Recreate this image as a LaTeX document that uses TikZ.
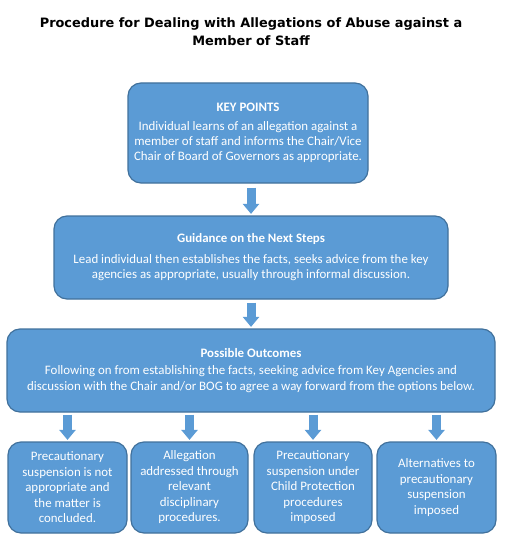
\documentclass[tikz,border=0pt]{standalone}
\usepackage{fontspec}
\setmainfont{Carlito}
\newfontfamily\titlefont{DejaVu Sans}
\usetikzlibrary{arrows.meta,calc}
\definecolor{boxfill}{HTML}{5B9BD5}
\definecolor{boxline}{HTML}{41719C}
\begin{document}
\begin{tikzpicture}[x=1pt,y=-1pt,
  box/.style={draw=boxline, fill=boxfill, line width=1.2pt, rounded corners=13pt,
    text=white, align=center, inner sep=0pt, font=\fontsize{12.9}{15.5}\selectfont},
  blockarrow/.style={color=boxfill, line width=9pt,
    -{Triangle[width=16pt,length=10pt]}}]
\useasboundingbox (0,0) rectangle (504,548);
\node[align=center, font=\titlefont\bfseries\fontsize{12.9}{18}\selectfont] (title) at (251,31.5)
  {Procedure for Dealing with Allegations of Abuse against a\\Member of Staff};
\node[box, minimum width=240pt, minimum height=100pt, font=\fontsize{12.9}{14.8}\selectfont] (k) at (248,133)
  {\textbf{KEY POINTS}\\[4pt]Individual learns of an allegation against a\\member of staff and informs the Chair/Vice\\Chair of Board of Governors as appropriate.};
\node[box, minimum width=394pt, minimum height=83pt] (g) at (251,257.5)
  {\textbf{Guidance on the Next Steps}\\[5pt]Lead individual then establishes the facts, seeks advice from the key\\agencies as appropriate, usually through informal discussion.};
\node[box, minimum width=488pt, minimum height=83pt] (o) at (251,370.5)
  {\textbf{Possible Outcomes}\\[2pt]Following on from establishing the facts, seeking advice from Key Agencies and\\discussion with the Chair and/or BOG to agree a way forward from the options below.};
\node[box, minimum width=119pt, minimum height=91pt] (b1) at (67.5,487.5)
  {Precautionary\\suspension is not\\appropriate and\\the matter is\\concluded.};
\node[box, minimum width=117pt, minimum height=91pt] (b2) at (189.5,487.5)
  {Allegation\\addressed through\\relevant\\disciplinary\\procedures.};
\node[box, minimum width=118pt, minimum height=91pt] (b3) at (313,487.5)
  {Precautionary\\suspension under\\Child Protection\\procedures\\imposed};
\node[box, minimum width=119pt, minimum height=91pt] (b4) at (436.5,487.5)
  {Alternatives to\\precautionary\\suspension\\imposed};
\draw[blockarrow, shorten <=4pt, shorten >=1.5pt] (k.south -| g.north) -- (g.north);
\draw[blockarrow, shorten <=3pt, shorten >=1.5pt] (g.south) -- (g.south |- o.north);
\foreach \b in {b1,b2,b3,b4}
  \draw[blockarrow, shorten <=2pt, shorten >=1.5pt] (o.south -| \b.north) -- (\b.north);
\end{tikzpicture}
\end{document}
